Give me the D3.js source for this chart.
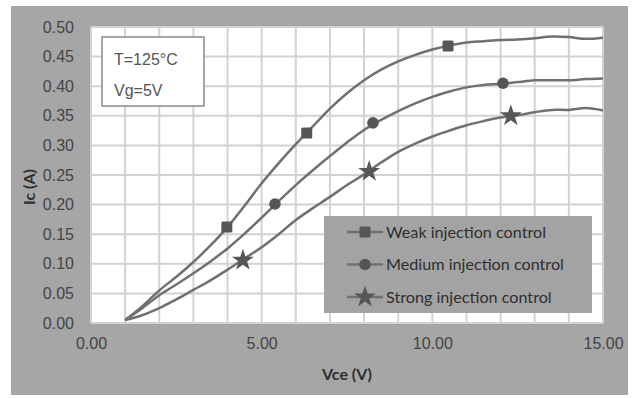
<!DOCTYPE html>
<html><head><meta charset="utf-8">
<script src="https://cdn.jsdelivr.net/npm/d3@7"></script>
<style>body{margin:0;background:#fff}svg{display:block}</style>
</head><body>
<svg id="c" width="635" height="398"></svg>
<script>
const seriesNames = ["Weak injection control","Medium injection control","Strong injection control"];
const markerShapes = ["square","circle","star"];
const vce = [1.0,1.5,2.0,2.5,3.0,3.5,4.0,4.5,5.0,5.5,6.0,6.5,7.0,7.5,8.0,8.5,9.0,9.5,10.0,10.5,11.0,11.5,12.0,12.5,13.0,13.5,14.0,14.5,15.0];
const icWeak   = [0.005,0.028,0.055,0.078,0.103,0.131,0.162,0.198,0.236,0.270,0.302,0.332,0.362,0.388,0.410,0.428,0.442,0.453,0.462,0.469,0.474,0.476,0.478,0.479,0.481,0.484,0.483,0.480,0.482];
const icMedium = [0.005,0.025,0.047,0.065,0.084,0.104,0.126,0.151,0.178,0.206,0.233,0.258,0.282,0.305,0.326,0.343,0.358,0.371,0.382,0.391,0.398,0.402,0.404,0.407,0.410,0.410,0.410,0.412,0.413];
const icStrong = [0.005,0.013,0.025,0.040,0.056,0.072,0.090,0.109,0.128,0.150,0.174,0.194,0.213,0.233,0.251,0.271,0.289,0.303,0.315,0.325,0.334,0.341,0.347,0.351,0.356,0.360,0.360,0.363,0.359];
const markWeakX = [3.98,6.32,10.46],  markWeakY = [0.162,0.321,0.468];
const markMedX  = [5.39,8.26,12.07],  markMedY  = [0.201,0.338,0.405];
const markStrX  = [4.45,8.15,12.30],  markStrY  = [0.106,0.256,0.350];
const xTicks = [0,5,10,15];
const xTickLabels = ["0.00","5.00","10.00","15.00"];
const yTicks = [0,0.05,0.10,0.15,0.20,0.25,0.30,0.35,0.40,0.45,0.50];
const yTickLabels = ["0.00","0.05","0.10","0.15","0.20","0.25","0.30","0.35","0.40","0.45","0.50"];
const xGrid = d3.range(0,16,1);
const annotation = ["T=125°C","Vg=5V"];

const ys = [icWeak, icMedium, icStrong];
const marks = [[markWeakX,markWeakY],[markMedX,markMedY],[markStrX,markStrY]];

const svg = d3.select("#c");
const L=91,R=603,T=27,B=323;
const x = d3.scaleLinear().domain([0,15]).range([L,R]);
const y = d3.scaleLinear().domain([0,0.5]).range([B,T]);

svg.append("rect").attr("x",11).attr("y",6).attr("width",617).attr("height",389).attr("fill","#a6a6a6");
svg.append("rect").attr("x",L).attr("y",T).attr("width",R-L).attr("height",B-T).attr("fill","#fff");

const g = svg.append("g");
g.selectAll(".vg").data(xGrid).join("line").attr("x1",d=>x(d)).attr("x2",d=>x(d)).attr("y1",T).attr("y2",B)
  .attr("stroke","#d2d2d2").attr("stroke-width",2);
g.selectAll(".hg").data(yTicks).join("line").attr("y1",d=>y(d)).attr("y2",d=>y(d)).attr("x1",L).attr("x2",R)
  .attr("stroke","#d2d2d2").attr("stroke-width",2);

const yAxis = d3.axisLeft(y).tickValues(yTicks).tickFormat((d,i)=>yTickLabels[i]).tickSize(0).tickPadding(17);
const ya = svg.append("g").attr("transform",`translate(${L},0)`).call(yAxis);
ya.select(".domain").remove();
ya.selectAll("text").attr("font-family","Liberation Sans, Arial, sans-serif").attr("font-size",16).attr("fill","#444");
const xAxis = d3.axisBottom(x).tickValues(xTicks).tickFormat((d,i)=>xTickLabels[i]).tickSize(0).tickPadding(15);
const xa = svg.append("g").attr("transform",`translate(0,${B})`).call(xAxis);
xa.select(".domain").remove();
xa.selectAll("text").attr("font-family","Liberation Sans, Arial, sans-serif").attr("font-size",16).attr("fill","#444");

svg.append("rect").attr("x",102).attr("y",37).attr("width",102).attr("height",69).attr("fill","#fff").attr("stroke","#8a8a8a").attr("stroke-width",1.5);
annotation.forEach((t,i)=>svg.append("text").attr("x",114).attr("y",65+i*31).text(t)
  .attr("font-family","Liberation Sans, Arial, sans-serif").attr("font-size",16).attr("fill","#555"));

const line = d3.line().x(d=>x(d[0])).y(d=>y(d[1])).curve(d3.curveCatmullRom.alpha(0.5));
ys.forEach(arr=>{
  svg.append("path").datum(vce.map((v,i)=>[v,arr[i]])).attr("d",line)
    .attr("fill","none").attr("stroke","#707070").attr("stroke-width",2.5);
});

function drawMarker(sel, shape, cx, cy){
  if(shape==="square") sel.append("rect").attr("x",cx-5.5).attr("y",cy-5.5).attr("width",11).attr("height",11).attr("rx",1.5).attr("fill","#565656");
  else if(shape==="circle") sel.append("circle").attr("cx",cx).attr("cy",cy).attr("r",5.8).attr("fill","#565656");
  else sel.append("path").attr("d",d3.symbol(d3.symbolStar,150)()).attr("transform",`translate(${cx},${cy})`).attr("fill","#565656");
}
marks.forEach((m,si)=>{
  m[0].forEach((mx,i)=>drawMarker(svg, markerShapes[si], x(mx), y(m[1][i])));
});

svg.append("rect").attr("x",324).attr("y",216).attr("width",268).attr("height",97).attr("fill","#a3a3a3");
seriesNames.forEach((n,i)=>{
  const cy = 232 + i*32.5;
  svg.append("line").attr("x1",347).attr("x2",383).attr("y1",cy).attr("y2",cy).attr("stroke","#707070").attr("stroke-width",2.5);
  drawMarker(svg, markerShapes[i], 365, cy);
  svg.append("text").attr("class","leg").attr("x",386).attr("y",cy).attr("dy","0.35em").text(n)
    .attr("font-family","Lato, sans-serif").attr("font-size",16).attr("fill","#2e2e2e");
});
const w0 = svg.select("text.leg").node().getComputedTextLength();
svg.selectAll("text.leg").attr("font-size",16*160/w0);

svg.append("text").attr("x",(L+R)/2).attr("y",380).attr("text-anchor","middle").text("Vce (V)")
  .attr("font-family","Lato, sans-serif").attr("font-weight","bold").attr("font-size",16).attr("fill","#2e2e2e");
svg.append("text").attr("transform","translate(35,187) rotate(-90)").attr("text-anchor","middle").text("Ic (A)")
  .attr("font-family","Lato, sans-serif").attr("font-weight","bold").attr("font-size",16).attr("fill","#2e2e2e");
</script>
</body></html>
